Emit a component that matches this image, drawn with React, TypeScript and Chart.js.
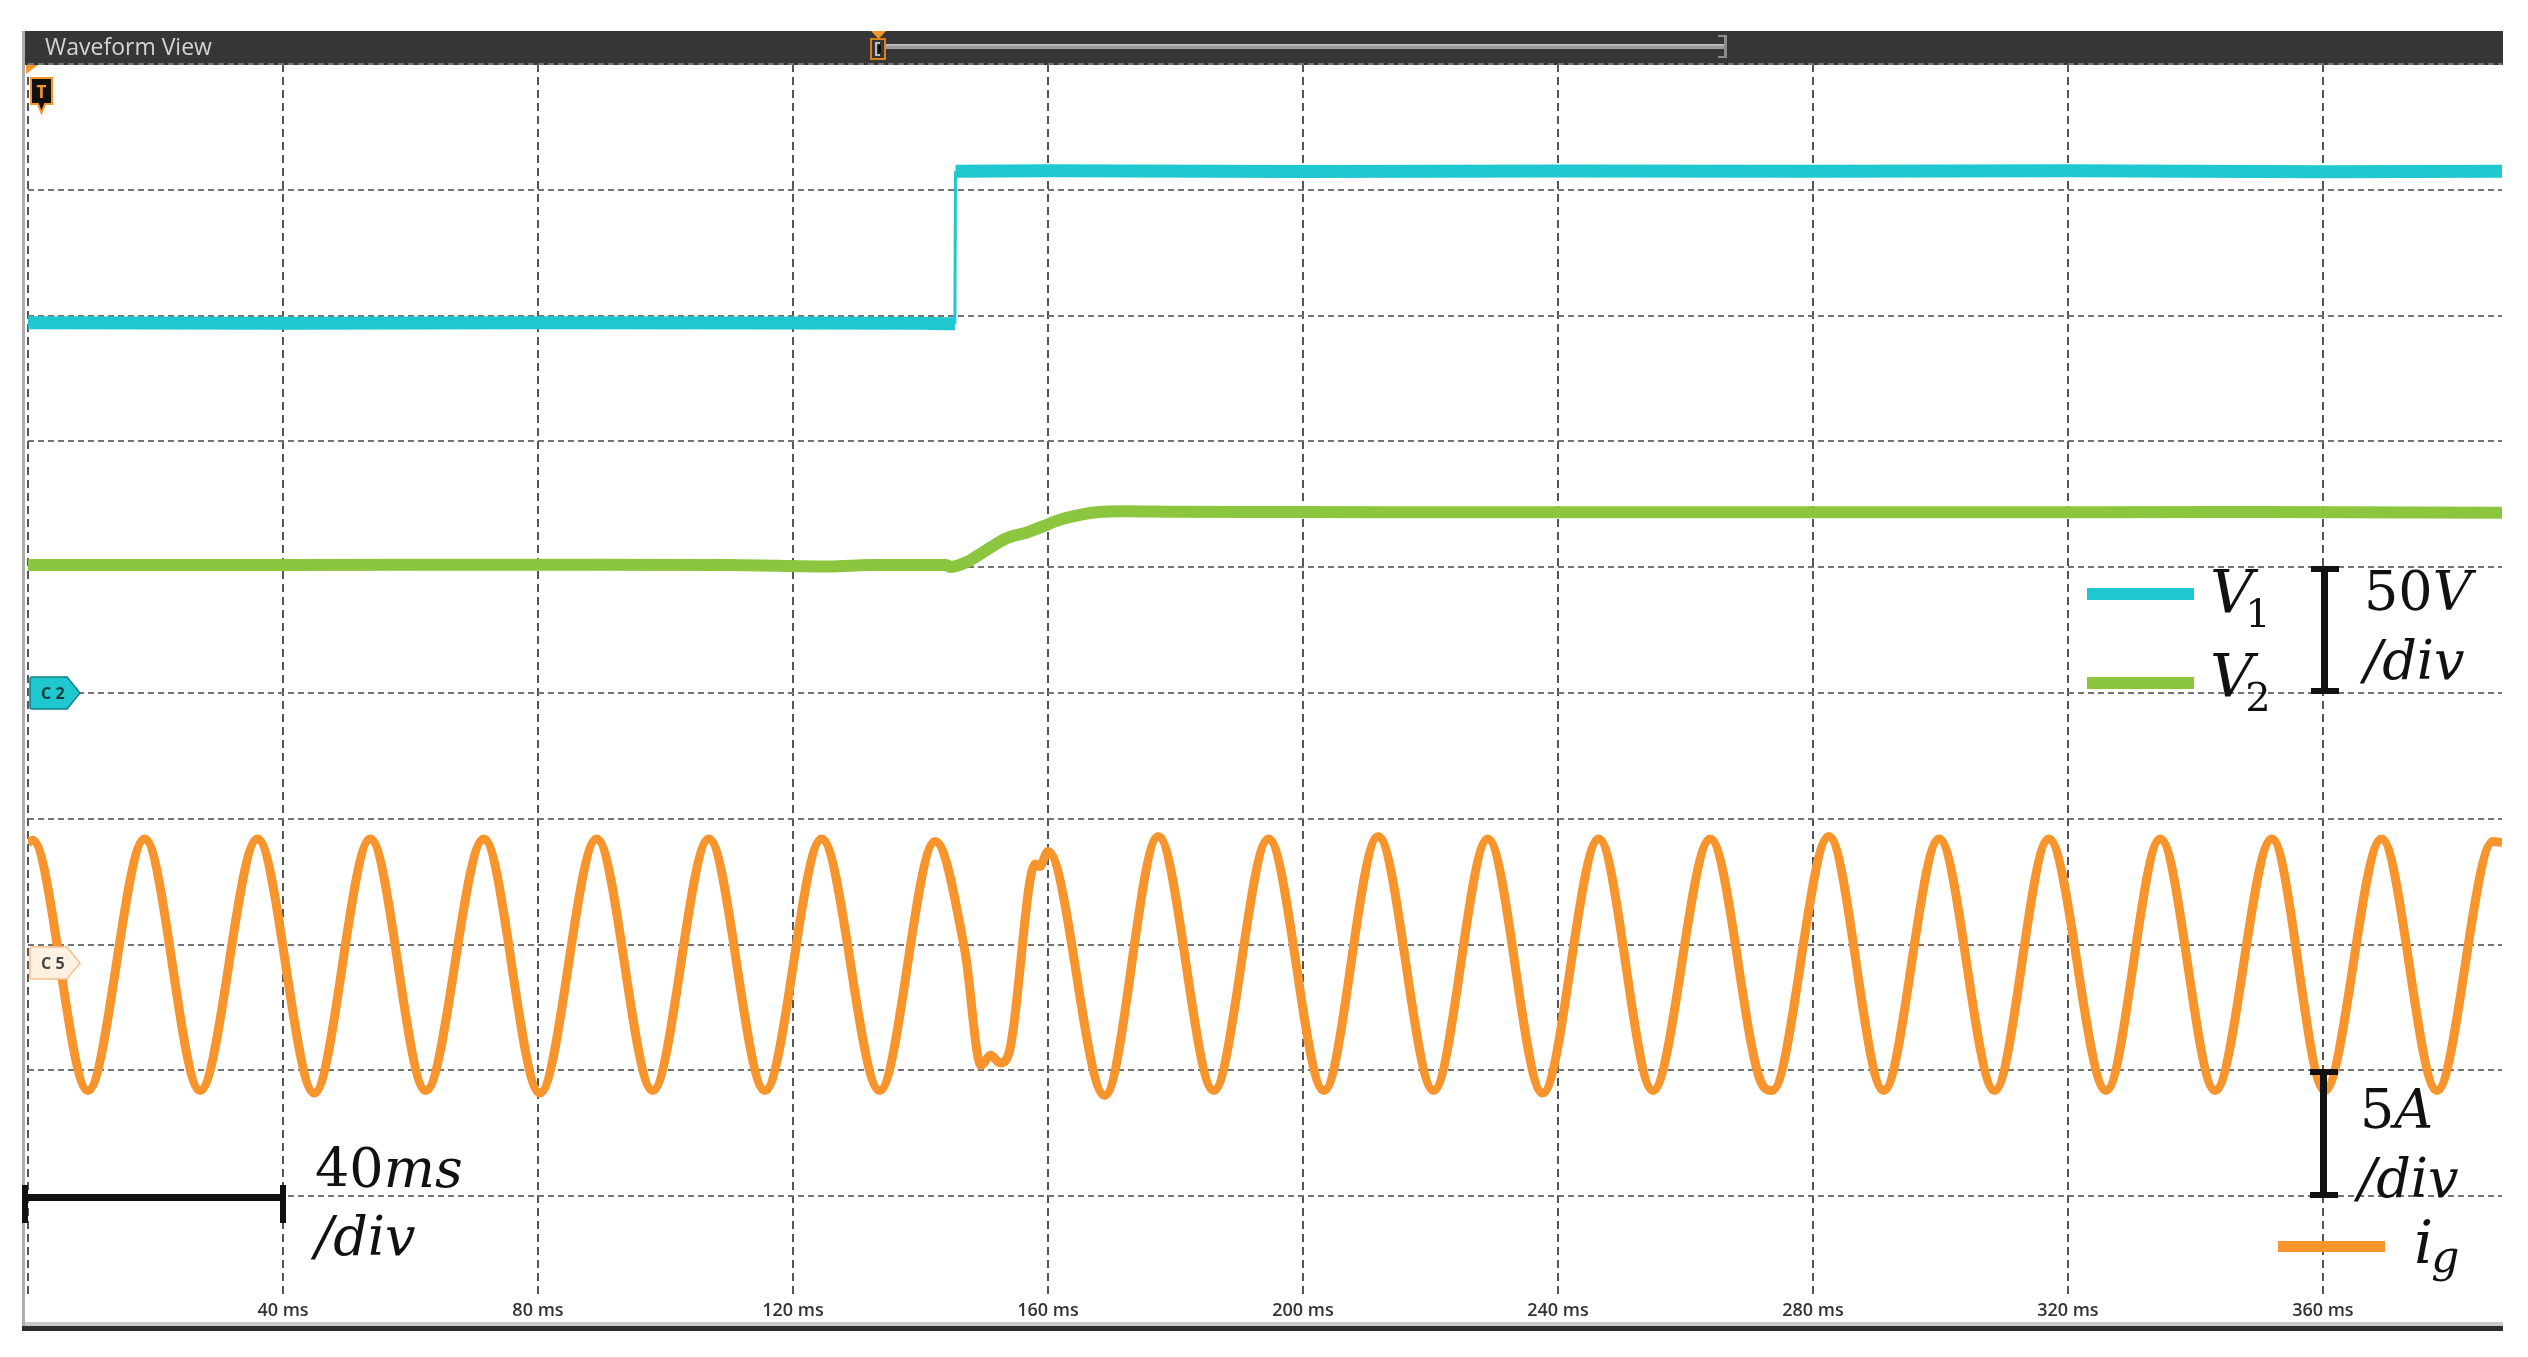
import React, { useEffect, useRef } from 'react';
import { Chart, registerables } from 'chart.js';

Chart.register(...registerables);

const CANVAS_W = 2528;
const CANVAS_H = 1357;

// ---------- time axis (ms) ----------
const timeGridMs = [0, 40, 80, 120, 160, 200, 240, 280, 320, 360];
const timeTickLabels = ['', '40 ms', '80 ms', '120 ms', '160 ms', '200 ms', '240 ms', '280 ms', '320 ms', '360 ms'];
const timeSpanMs = 388.1;

// ---------- voltage channel: 50 V/div, 0 V at the C2 marker ----------
const voltsPerDiv = 50;
const voltZeroDiv = 5;
const voltGrid = [-250, -200, -150, -100, -50, 0, 50, 100, 150, 200, 250];

const v1Time = [0, 40, 80, 120, 140, 144.3, 145.4, 145.5, 160, 200, 240, 280, 320, 360, 388.1];
const v1Volts = [147.2, 147.0, 147.2, 147.1, 147.0, 146.8, 146.8, 207.4, 207.6, 207.3, 207.5, 207.4, 207.6, 207.2, 207.4];

const v2Time = [0, 40, 80, 110, 125.8, 132, 144.1, 144.6, 147.2, 150.4, 153.5, 156.7, 159.3, 161.9, 165.0, 168.0, 172, 180, 200, 250, 300, 350, 388.1];
const v2Volts = [50.9, 50.9, 51.0, 50.9, 50.3, 50.9, 50.9, 50.1, 52.0, 56.9, 61.5, 63.8, 66.3, 68.9, 70.8, 71.9, 72.2, 72.0, 71.9, 71.8, 71.8, 71.9, 71.6];

// ---------- current channel: 5 A/div, 0 A at the C5 marker ----------
const ampsPerDiv = 5;
const ampsZeroDiv = 2.84;

const igTime = [0, 0.7, 9.4, 18.3, 27.0, 36.0, 44.9, 53.7, 62.4, 71.5, 80.3, 89.2, 98.0, 106.8, 115.6, 124.5, 133.6, 142.3, 147.0, 149.5, 151.0, 152.5, 154.0, 158.0, 158.7, 160.0, 168.9, 177.3, 186.0, 194.6, 203.3, 211.8, 220.5, 229.0, 237.6, 246.4, 254.9, 263.9, 271.6, 273.6, 282.5, 291.1, 299.8, 308.5, 317.0, 326.0, 334.5, 343.1, 352.0, 360.3, 369.2, 377.9, 386.7, 388.1];
const igAmps = [4.85, 4.95, -5.0, 5.0, -5.0, 5.0, -5.1, 5.0, -5.0, 5.0, -5.1, 5.0, -5.0, 5.0, -5.0, 5.0, -5.0, 4.9, 0.5, -4.0, -3.6, -3.9, -3.4, 4.0, 3.9, 4.5, -5.2, 5.1, -5.0, 5.0, -5.0, 5.1, -5.0, 5.0, -5.1, 5.0, -5.0, 5.0, -4.5, -5.0, 5.1, -5.0, 5.0, -5.0, 5.0, -5.0, 5.0, -5.0, 5.0, -5.0, 5.0, -5.0, 4.9, 4.85];

const CYAN = '#1fc8cf';
const GREEN = '#8cc63f';
const ORANGE = '#f7952c';
const MATH_FONT = '"DejaVu Serif", serif';
const UI_FONT = '"Open Sans", sans-serif';

const toPoints = (xs: number[], ys: number[]) => xs.map((x, i) => ({ x, y: ys[i] }));

function mathText(ctx: CanvasRenderingContext2D, parts: [string, boolean][], x: number, y: number, size: number) {
  let cx = x;
  for (const [s, it] of parts) {
    ctx.font = `${it ? 'italic ' : ''}${size}px ${MATH_FONT}`;
    ctx.fillText(s, cx, y);
    cx += ctx.measureText(s).width;
  }
  return cx;
}

function pentagon(ctx: CanvasRenderingContext2D, x: number, y: number, w: number, h: number, tip: number) {
  ctx.beginPath();
  ctx.moveTo(x + 2, y);
  ctx.lineTo(x + w - tip, y);
  ctx.lineTo(x + w, y + h / 2);
  ctx.lineTo(x + w - tip, y + h);
  ctx.lineTo(x + 2, y + h);
  ctx.quadraticCurveTo(x, y + h, x, y + h - 2);
  ctx.lineTo(x, y + 2);
  ctx.quadraticCurveTo(x, y, x + 2, y);
  ctx.closePath();
}

const scopeOverlay = {
  id: 'scopeOverlay',
  beforeDraw(chart: any) {
    const ctx: CanvasRenderingContext2D = chart.ctx;
    ctx.save();
    // header bar
    ctx.fillStyle = '#363636';
    ctx.fillRect(22, 31, 2481, 34);
    ctx.fillStyle = '#d4d4d4';
    ctx.font = `23px ${UI_FONT}`;
    ctx.textBaseline = 'alphabetic';
    ctx.fillText('Waveform View', 45, 55);
    // time window bar
    ctx.fillStyle = '#9c9c9c';
    ctx.fillRect(886, 44, 838, 5);
    ctx.fillStyle = '#c4c4c4';
    ctx.fillRect(886, 44, 838, 1.5);
    ctx.fillStyle = '#8c8c8c';
    ctx.fillRect(1724, 35, 3, 23);
    ctx.fillRect(1718, 35, 8, 2);
    ctx.fillRect(1718, 56, 8, 2);
    // trigger position marker
    ctx.fillStyle = ORANGE;
    ctx.beginPath();
    ctx.moveTo(871, 31); ctx.lineTo(886, 31); ctx.lineTo(878.5, 39); ctx.closePath(); ctx.fill();
    ctx.strokeStyle = '#d9801f';
    ctx.lineWidth = 2;
    ctx.strokeRect(871, 39, 14, 20);
    ctx.fillStyle = '#bdbdbd';
    ctx.fillRect(875, 42, 2, 14);
    ctx.fillRect(875, 42, 5, 2);
    ctx.fillRect(875, 54, 5, 2);
    ctx.fillStyle = '#111';
    ctx.fillRect(878, 45, 3, 8);
    ctx.restore();
  },
  afterDraw(chart: any) {
    const ctx: CanvasRenderingContext2D = chart.ctx;
    const xs = chart.scales.x;
    const area = chart.chartArea;
    ctx.save();
    // label strip under the grid
    ctx.fillStyle = '#ffffff';
    ctx.fillRect(area.left - 1, 1298, area.right - area.left + 2, area.bottom - 1298);
    // time tick labels
    ctx.fillStyle = '#333333';
    ctx.font = `600 18px ${UI_FONT}`;
    ctx.textAlign = 'center';
    ctx.textBaseline = 'alphabetic';
    timeGridMs.forEach((t, i) => {
      if (timeTickLabels[i]) ctx.fillText(timeTickLabels[i], xs.getPixelForValue(t), 1316);
    });
    ctx.textAlign = 'left';
    // frame
    ctx.fillStyle = '#c9c9c9';
    ctx.fillRect(22, 1322, 2481, 4);
    ctx.fillStyle = '#2c2c2c';
    ctx.fillRect(22, 1326, 2481, 5);
    ctx.fillStyle = '#adadad';
    ctx.fillRect(22, 31, 3, 1295);

    // trigger level flag "T"
    ctx.fillStyle = ORANGE;
    ctx.beginPath();
    ctx.moveTo(26, 65); ctx.lineTo(38, 65); ctx.lineTo(26, 74); ctx.closePath(); ctx.fill();
    ctx.fillStyle = '#111';
    ctx.strokeStyle = ORANGE;
    ctx.lineWidth = 2;
    ctx.beginPath();
    ctx.moveTo(31, 78); ctx.lineTo(52, 78); ctx.lineTo(52, 104); ctx.lineTo(45, 104);
    ctx.lineTo(41.5, 113); ctx.lineTo(38, 104); ctx.lineTo(31, 104); ctx.closePath();
    ctx.fill(); ctx.stroke();
    ctx.fillStyle = ORANGE;
    ctx.font = `bold 17px ${UI_FONT}`;
    ctx.textAlign = 'center';
    ctx.fillText('T', 41.5, 98);

    // channel reference markers
    pentagon(ctx, 30, 677, 50, 32, 13);
    ctx.fillStyle = CYAN; ctx.fill();
    ctx.strokeStyle = '#0e7f86'; ctx.lineWidth = 1.5; ctx.stroke();
    ctx.fillStyle = '#173c3f';
    ctx.font = `bold 16px ${UI_FONT}`;
    ctx.fillText('C', 46, 699);
    ctx.fillText('2', 60, 699);
    pentagon(ctx, 30, 947, 50, 32, 13);
    ctx.fillStyle = '#fff1e2'; ctx.fill();
    ctx.strokeStyle = '#f4c08c'; ctx.lineWidth = 1.5; ctx.stroke();
    ctx.fillStyle = '#444';
    ctx.fillText('C', 46, 969);
    ctx.fillText('5', 60, 969);
    ctx.textAlign = 'left';

    // legend lines
    ctx.fillStyle = CYAN; ctx.fillRect(2087, 588, 107, 12);
    ctx.fillStyle = GREEN; ctx.fillRect(2087, 677, 107, 12);
    ctx.fillStyle = ORANGE; ctx.fillRect(2278, 1241, 107, 11);

    ctx.fillStyle = '#111';
    // V1, V2 labels
    let e = mathText(ctx, [['V', true]], 2210, 613, 60);
    ctx.font = `40px ${MATH_FONT}`; ctx.fillText('1', e - 8, 627);
    e = mathText(ctx, [['V', true]], 2210, 697, 60);
    ctx.font = `40px ${MATH_FONT}`; ctx.fillText('2', e - 8, 711);
    // i_g label
    e = mathText(ctx, [['i', true]], 2414, 1263, 60);
    ctx.font = `italic 44px ${MATH_FONT}`; ctx.fillText('g', e - 2, 1272);

    // voltage scale bar
    ctx.fillRect(2321, 567, 7, 126);
    ctx.fillRect(2311, 566, 28, 6);
    ctx.fillRect(2311, 688, 28, 6);
    mathText(ctx, [['50', false], ['V', true]], 2364, 610, 54);
    mathText(ctx, [['/div', true]], 2364, 679, 54);

    // current scale bar
    ctx.fillRect(2320, 1070, 7, 127);
    ctx.fillRect(2310, 1069, 28, 6);
    ctx.fillRect(2310, 1192, 28, 6);
    mathText(ctx, [['5', false], ['A', true]], 2360, 1128, 54);
    mathText(ctx, [['/div', true]], 2358, 1197, 54);

    // time scale bar
    ctx.fillRect(24, 1194, 260, 7);
    ctx.fillRect(22, 1185, 6, 38);
    ctx.fillRect(280, 1185, 6, 38);
    mathText(ctx, [['40', false], ['ms', true]], 315, 1187, 54);
    mathText(ctx, [['/div', true]], 315, 1255, 54);
    ctx.restore();
  },
};

export default function App() {
  const ref = useRef<HTMLCanvasElement>(null);
  useEffect(() => {
    const canvas = ref.current;
    if (!canvas) return;
    const chart = new Chart(canvas, {
      type: 'line',
      data: {
        datasets: [
          {
            label: 'V1',
            data: toPoints(v1Time, v1Volts),
            yAxisID: 'yV',
            borderColor: CYAN,
            borderWidth: 13,
            pointRadius: 0,
            tension: 0,
            segment: {
              borderWidth: (c: any) => (Math.abs(c.p1.parsed.x - c.p0.parsed.x) < 0.5 ? 3 : 13),
            },
          },
          {
            label: 'V2',
            data: toPoints(v2Time, v2Volts),
            yAxisID: 'yV',
            borderColor: GREEN,
            borderWidth: 12,
            pointRadius: 0,
            cubicInterpolationMode: 'monotone',
          },
          {
            label: 'ig',
            data: toPoints(igTime, igAmps),
            yAxisID: 'yI',
            borderColor: ORANGE,
            borderWidth: 9,
            borderJoinStyle: 'round',
            pointRadius: 0,
            cubicInterpolationMode: 'monotone',
          },
        ],
      } as any,
      options: {
        responsive: false,
        animation: false,
        devicePixelRatio: 1,
        events: [],
        layout: { padding: { left: 28, right: 26, top: 64, bottom: 35 } },
        plugins: { legend: { display: false }, tooltip: { enabled: false } },
        scales: {
          x: {
            type: 'linear',
            min: 0,
            max: timeSpanMs,
            afterBuildTicks: (s: any) => {
              s.ticks = timeGridMs.map((v) => ({ value: v }));
            },
            ticks: { display: false },
            grid: { color: '#555555', lineWidth: 2, drawTicks: false, borderDash: [8, 5] },
            border: { display: false, dash: [8, 5] },
            z: 1,
          },
          yV: {
            type: 'linear',
            position: 'left',
            min: -voltZeroDiv * voltsPerDiv,
            max: (10 - voltZeroDiv) * voltsPerDiv,
            afterBuildTicks: (s: any) => {
              s.ticks = voltGrid.map((v) => ({ value: v }));
            },
            ticks: { display: false },
            grid: { color: '#747474', lineWidth: 2, drawTicks: false, borderDash: [6, 4] },
            border: { display: false, dash: [6, 4] },
            z: 1,
          },
          yI: {
            type: 'linear',
            display: false,
            min: -ampsZeroDiv * ampsPerDiv,
            max: (10 - ampsZeroDiv) * ampsPerDiv,
          },
        },
      } as any,
      plugins: [scopeOverlay],
    });
    return () => chart.destroy();
  }, []);
  return (
    <div style={{ position: 'absolute', left: 0, top: 0, width: CANVAS_W, height: CANVAS_H, background: '#fff' }}>
      <canvas ref={ref} width={CANVAS_W} height={CANVAS_H} style={{ display: 'block', width: CANVAS_W, height: CANVAS_H }} />
    </div>
  );
}
